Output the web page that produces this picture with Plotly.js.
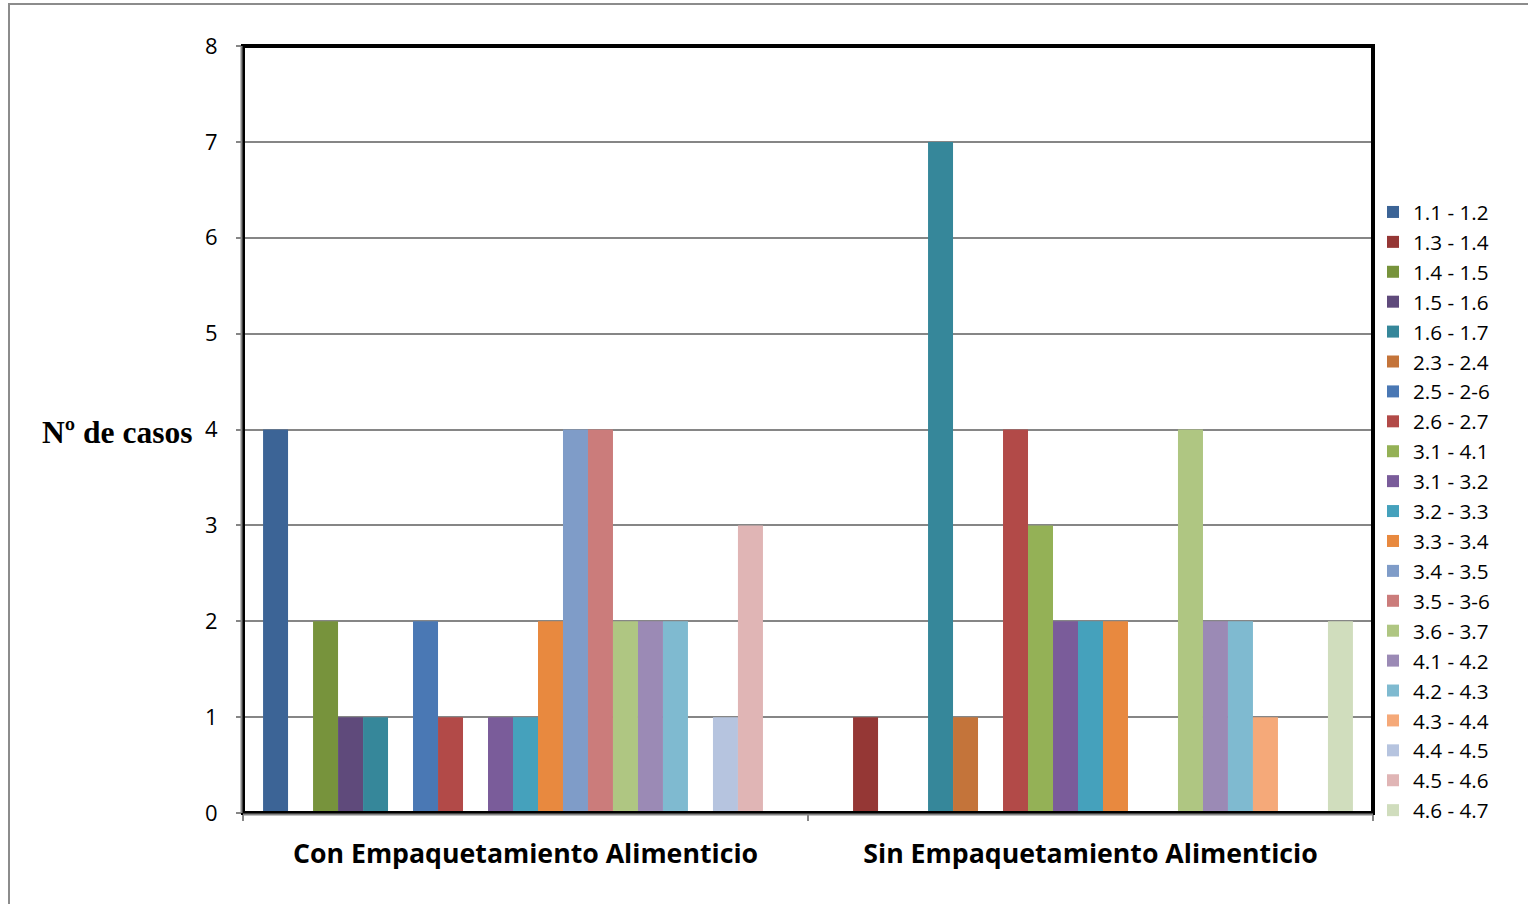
<!DOCTYPE html>
<html>
<head>
<meta charset="utf-8">
<script src="https://cdn.plot.ly/plotly-3.0.1.min.js"></script>
<style>html,body{margin:0;padding:0;background:#fff;}#chart{width:1528px;height:904px;}</style>
</head>
<body>
<div id="chart"></div>
<script>
const categories = ["Con Empaquetamiento Alimenticio", "Sin Empaquetamiento Alimenticio"];
const seriesNames = ["1.1 - 1.2","1.3 - 1.4","1.4 - 1.5","1.5 - 1.6","1.6 - 1.7","2.3 - 2.4","2.5 - 2-6","2.6 - 2.7","3.1 - 4.1","3.1 - 3.2","3.2 - 3.3","3.3 - 3.4","3.4 - 3.5","3.5 - 3-6","3.6 - 3.7","4.1 - 4.2","4.2 - 4.3","4.3 - 4.4","4.4 - 4.5","4.5 - 4.6","4.6 - 4.7"];
const conValues = [4,0,2,1,1,0,2,1,0,1,1,2,4,4,2,2,2,0,1,3,0];
const sinValues = [0,1,0,0,7,1,0,4,3,2,2,2,0,0,4,2,2,1,0,0,2];
const seriesColors = ["#3c6496","#953735","#77933c","#5f4a7b","#36879a","#c4743a","#4a78b4","#b24a48","#94b156","#7a5c9a","#45a1bc","#e8893f","#7f9cc8","#cb7c7b","#afc682","#9b8ab5","#7fbad0","#f5a979","#b6c4df","#e0b5b5","#d0ddbd"];
const yTicks = [0,1,2,3,4,5,6,7,8];

const FONT = "Open Sans, Noto Sans, sans-serif";
const traces = seriesNames.map((n,i)=>({
  type:"bar", name:n, x:categories, y:[conValues[i], sinValues[i]],
  marker:{color:seriesColors[i], line:{width:0}},
  hoverinfo:"name+y"
}));

// plot area in px: x 243..1373, y 46..813
const L=243, R=1373, T=46, B=813, W=1528, H=904;
const px2x = p => (p-L)/(R-L);
const py2y = p => (B-p)/(B-T);

const layout = {
  width:W, height:H,
  margin:{l:L, r:W-R, t:T, b:H-B, pad:0},
  paper_bgcolor:"#fff", plot_bgcolor:"#fff",
  barmode:"group", bargap:0.071, bargroupgap:0,
  font:{family:FONT, color:"#000", size:21},
  showlegend:true,
  legend:{x:1.0, xanchor:"left", xref:"paper", y:py2y(192), yanchor:"top",
    font:{family:FONT, size:20.7, color:"#000"}, tracegroupgap:0, itemwidth:30,
    bgcolor:"rgba(0,0,0,0)", traceorder:"normal"},
  xaxis:{type:"category", showgrid:false, zeroline:false,
    showline:false, ticks:"outside", tickson:"boundaries", ticklen:7, tickcolor:"#868686", tickwidth:2,
    tickfont:{family:FONT, size:26.7, color:"#000", weight:"bold"}, ticklabelstandoff:22},
  yaxis:{range:[0,8], tickvals:yTicks, showgrid:true, gridcolor:"#868686", gridwidth:2,
    zeroline:false, showline:false, ticks:"outside", ticklen:6, tickcolor:"#868686", tickwidth:2,
    tickfont:{family:FONT, size:22, color:"#000"}, ticklabelstandoff:14},
  shapes:[
    {type:"rect", xref:"paper", yref:"paper", x0:px2x(9), x1:px2x(1540), y0:py2y(4), y1:py2y(920),
     line:{color:"#8c8c8c", width:2}, fillcolor:"rgba(0,0,0,0)", layer:"below"},
    {type:"rect", xref:"paper", yref:"paper", x0:0, x1:1, y0:0, y1:1,
     line:{color:"#000", width:4}, fillcolor:"rgba(0,0,0,0)", layer:"above"},
    {type:"line", xref:"paper", yref:"paper", x0:0, x1:1, y0:py2y(814.5), y1:py2y(814.5), line:{color:"#868686", width:2}},
    {type:"line", xref:"paper", yref:"paper", x0:px2x(241.5), x1:px2x(241.5), y0:0, y1:1, line:{color:"#868686", width:2}}
  ],
  annotations:[
    {text:"<b>Nº de casos</b>", xref:"paper", yref:"paper", x:px2x(194), y:py2y(432), xanchor:"right", yanchor:"middle",
     showarrow:false, font:{family:"Liberation Serif, Times New Roman, serif", size:31.5, color:"#000"}}
  ]
};
Plotly.newPlot("chart", traces, layout, {displayModeBar:false, staticPlot:true});
</script>
</body>
</html>
